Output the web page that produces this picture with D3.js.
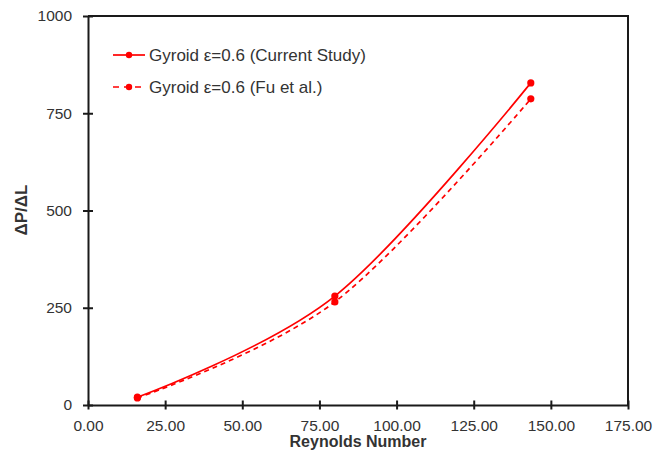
<!DOCTYPE html>
<html>
<head>
<meta charset="utf-8">
<script src="https://cdn.jsdelivr.net/npm/d3@7"></script>
<style>
  html, body { margin: 0; padding: 0; background: #fff; }
  svg { display: block; font-family: "Liberation Sans", Arial, sans-serif; }
</style>
</head>
<body>
<svg id="chart" width="670" height="454"></svg>
<script>
// Pressure drop per unit length vs Reynolds number, gyroid ε=0.6
const reynolds = [16.0, 80.0, 143.5];
const currentStudy = [20, 280, 828];
const fuEtAl = [18, 265, 787];
const xTicks = [0, 25, 50, 75, 100, 125, 150, 175];
const yTicks = [0, 250, 500, 750, 1000];
const seriesNames = ["Gyroid ε=0.6 (Current Study)", "Gyroid ε=0.6 (Fu et al.)"];

const W = 670, H = 454;
const margin = { left: 88, right: 42, top: 16, bottom: 49 };
const svg = d3.select("#chart");
const red = "#ff0000";
const ink = "#1a1a1a";
const labelInk = "#333";

const x = d3.scaleLinear().domain([0, 175]).range([margin.left, W - margin.right]);
const y = d3.scaleLinear().domain([0, 1000]).range([H - margin.bottom, margin.top]);

// Axes: tick marks straddle the axis line
const xAxis = d3.axisBottom(x).tickValues(xTicks).tickFormat(d3.format(".2f")).tickSize(0).tickPadding(0);
const yAxis = d3.axisLeft(y).tickValues(yTicks).tickFormat(d3.format("d")).tickSize(0).tickPadding(0);

const gx = svg.append("g").attr("transform", `translate(0,${y(0)})`).call(xAxis);
const gy = svg.append("g").attr("transform", `translate(${x(0)},0)`).call(yAxis);
gx.selectAll(".tick line").attr("y1", -4.5).attr("y2", 4.5);
gy.selectAll(".tick line").attr("x1", -5).attr("x2", 5);
[gx, gy].forEach(g => {
  g.selectAll("path, line").attr("stroke", ink).attr("stroke-width", 2);
  g.selectAll("text").attr("font-size", 15.5).attr("fill", labelInk)
    .attr("font-family", "'Liberation Sans', Arial, sans-serif");
});
gx.selectAll("text").attr("y", 26).attr("dy", null);
gy.selectAll("text").attr("x", -16);

// Plot frame (top and right edges)
svg.append("path")
  .attr("d", `M${x(0)},${y(1000)}H${x(175)}V${y(0)}`)
  .attr("fill", "none").attr("stroke", ink).attr("stroke-width", 2);

// Axis titles
svg.append("text")
  .attr("x", (x(0) + x(175)) / 2).attr("y", 447)
  .attr("text-anchor", "middle").attr("font-size", 16).attr("font-weight", "bold")
  .attr("fill", labelInk).text("Reynolds Number");
svg.append("text")
  .attr("transform", `translate(27,${210}) rotate(-90)`)
  .attr("text-anchor", "middle").attr("font-size", 17).attr("font-weight", "bold")
  .attr("fill", labelInk).text("ΔP/ΔL");

// Series: smoothed lines through the measured points
const line = d3.line().x(d => x(d[0])).y(d => y(d[1])).curve(d3.curveCatmullRom.alpha(0));
const series = [
  { name: seriesNames[0], values: currentStudy, dash: null },
  { name: seriesNames[1], values: fuEtAl, dash: "5,4" }
];

series.forEach(s => {
  const pts = reynolds.map((r, i) => [r, s.values[i]]);
  svg.append("path").datum(pts)
    .attr("d", line).attr("fill", "none")
    .attr("stroke", red).attr("stroke-width", 1.7)
    .attr("stroke-dasharray", s.dash);
  svg.append("g").selectAll("circle").data(pts).join("circle")
    .attr("cx", d => x(d[0])).attr("cy", d => y(d[1])).attr("r", 3.6)
    .attr("fill", red);
});

// Legend
const legend = svg.append("g").attr("transform", "translate(113,55)");
series.forEach((s, i) => {
  const g = legend.append("g").attr("transform", `translate(0,${i * 32})`);
  g.append("line").attr("x1", 0).attr("x2", 32).attr("y1", 0).attr("y2", 0)
    .attr("stroke", red).attr("stroke-width", 1.7).attr("stroke-dasharray", s.dash ? "6,5" : null);
  g.append("circle").attr("cx", 16).attr("cy", 0).attr("r", 3.2).attr("fill", red);
  g.append("text").attr("x", 36).attr("y", 0).attr("dy", "0.36em")
    .attr("font-size", 17).attr("fill", labelInk).text(s.name);
});
</script>
</body>
</html>
